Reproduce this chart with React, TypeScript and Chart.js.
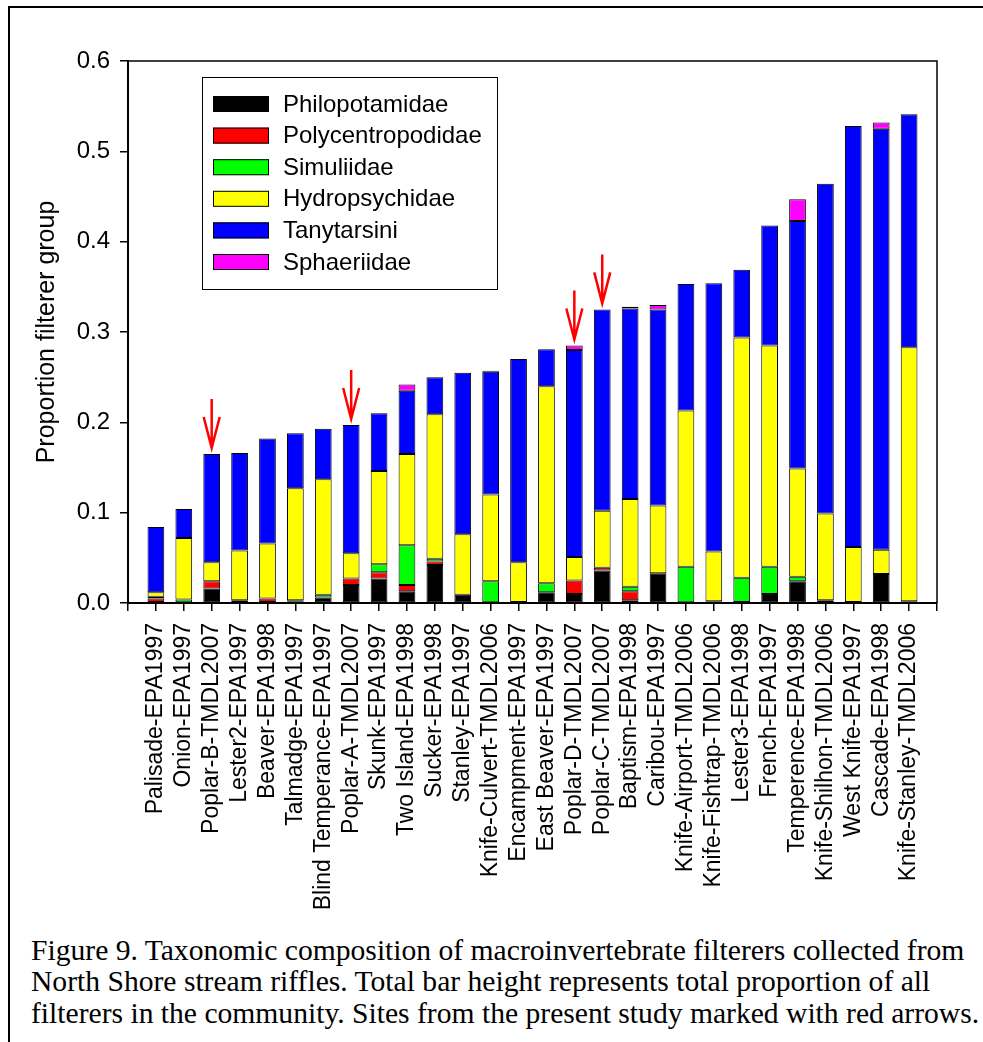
import { Chart, registerables, Plugin } from "chart.js";
import { useEffect, useRef } from "react";

Chart.register(...registerables);

const sites = [
  "Palisade-EPA1997",
  "Onion-EPA1997",
  "Poplar-B-TMDL2007",
  "Lester2-EPA1997",
  "Beaver-EPA1998",
  "Talmadge-EPA1997",
  "Blind Temperance-EPA1997",
  "Poplar-A-TMDL2007",
  "Skunk-EPA1997",
  "Two Island-EPA1998",
  "Sucker-EPA1998",
  "Stanley-EPA1997",
  "Knife-Culvert-TMDL2006",
  "Encampment-EPA1997",
  "East Beaver-EPA1997",
  "Poplar-D-TMDL2007",
  "Poplar-C-TMDL2007",
  "Baptism-EPA1998",
  "Caribou-EPA1997",
  "Knife-Airport-TMDL2006",
  "Knife-Fishtrap-TMDL2006",
  "Lester3-EPA1998",
  "French-EPA1997",
  "Temperence-EPA1998",
  "Knife-Shilhon-TMDL2006",
  "West Knife-EPA1997",
  "Cascade-EPA1998",
  "Knife-Stanley-TMDL2006",
];

const philopotamidae = [
  0.001, 0, 0.016, 0.001, 0.001, 0.002, 0.006, 0.02, 0.027, 0.013, 0.042, 0.009, 0, 0.001,
  0.012, 0.01, 0.036, 0.003, 0.033, 0, 0.002, 0.001, 0.01, 0.024, 0.003, 0.001, 0.032, 0.002,
];
const polycentropodidae = [
  0.004, 0, 0.008, 0, 0.004, 0, 0, 0.007, 0.007, 0.007, 0.004, 0, 0, 0,
  0, 0.015, 0.003, 0.01, 0, 0, 0, 0, 0, 0, 0, 0, 0, 0,
];
const simuliidae = [
  0.002, 0.004, 0, 0.002, 0, 0.001, 0.003, 0, 0.009, 0.044, 0.003, 0, 0.024, 0,
  0.01, 0, 0, 0.005, 0, 0.04, 0, 0.027, 0.03, 0.005, 0, 0, 0, 0,
];
const hydropsychidae = [
  0.005, 0.068, 0.021, 0.055, 0.061, 0.124, 0.128, 0.028, 0.103, 0.101, 0.16, 0.067, 0.096, 0.044,
  0.218, 0.026, 0.063, 0.097, 0.075, 0.173, 0.055, 0.266, 0.245, 0.12, 0.096, 0.061, 0.027, 0.281,
];
const tanytarsini = [
  0.072, 0.032, 0.12, 0.108, 0.116, 0.061, 0.056, 0.142, 0.064, 0.07, 0.041, 0.179, 0.136, 0.225,
  0.041, 0.229, 0.223, 0.211, 0.217, 0.14, 0.297, 0.075, 0.133, 0.274, 0.365, 0.466, 0.466, 0.258,
];
const sphaeriidae = [
  0, 0, 0, 0, 0, 0, 0, 0, 0, 0.007, 0, 0, 0.001, 0,
  0, 0.005, 0, 0.002, 0.005, 0, 0, 0, 0, 0.024, 0, 0, 0.007, 0,
];

const yTicks = [0, 0.1, 0.2, 0.3, 0.4, 0.5, 0.6];

// sites from the present study
const arrowSites = ["Poplar-B-TMDL2007", "Poplar-A-TMDL2007", "Poplar-D-TMDL2007", "Poplar-C-TMDL2007"];

const captionLines = [
  "Figure 9. Taxonomic composition of macroinvertebrate filterers collected from",
  "North Shore stream riffles. Total bar height represents total proportion of all",
  "filterers in the community. Sites from the present study marked with red arrows.",
];

const groups = [
  { label: "Philopotamidae", values: philopotamidae, color: "#000000" },
  { label: "Polycentropodidae", values: polycentropodidae, color: "#ff0000" },
  { label: "Simuliidae", values: simuliidae, color: "#00ff00" },
  { label: "Hydropsychidae", values: hydropsychidae, color: "#ffff00" },
  { label: "Tanytarsini", values: tanytarsini, color: "#0000ff" },
  { label: "Sphaeriidae", values: sphaeriidae, color: "#ff00ff" },
];

const FONT = "'Liberation Sans', Arial, sans-serif";

const framePlugin: Plugin<"bar"> = {
  id: "frame",
  afterDraw(chart) {
    const { ctx, chartArea: a } = chart;
    ctx.save();
    ctx.strokeStyle = "#000";
    ctx.lineWidth = 1.5;
    ctx.beginPath();
    ctx.moveTo(a.left, a.top);
    ctx.lineTo(a.right, a.top);
    ctx.lineTo(a.right, a.bottom);
    ctx.stroke();
    ctx.restore();
  },
};

const legendPlugin: Plugin<"bar"> = {
  id: "boxLegend",
  afterDraw(chart) {
    const { ctx, chartArea: a } = chart;
    const bx = a.left + 74;
    const by = a.top + 16;
    ctx.save();
    ctx.fillStyle = "#fff";
    ctx.fillRect(bx, by, 295, 212);
    ctx.strokeStyle = "#000";
    ctx.lineWidth = 1;
    ctx.strokeRect(bx + 0.5, by + 0.5, 295, 212);
    ctx.font = `24px ${FONT}`;
    ctx.textBaseline = "middle";
    chart.data.datasets.forEach((ds, i) => {
      const cy = by + 27 + i * 31.6;
      ctx.fillStyle = ds.backgroundColor as string;
      ctx.fillRect(bx + 11, cy - 8, 56, 16);
      ctx.strokeStyle = "#000";
      ctx.strokeRect(bx + 11.5, cy - 7.5, 55, 15);
      ctx.fillStyle = "#000";
      ctx.fillText(ds.label as string, bx + 81, cy + 1);
    });
    ctx.restore();
  },
};

const arrowPlugin: Plugin<"bar"> = {
  id: "arrows",
  afterDraw(chart) {
    const { ctx } = chart;
    const xs = chart.scales.x;
    const ys = chart.scales.y;
    ctx.save();
    ctx.strokeStyle = "#ff0000";
    ctx.lineWidth = 2.5;
    arrowSites.forEach((site) => {
      const i = sites.indexOf(site);
      const total = groups.reduce((s, g) => s + g.values[i], 0);
      const x = xs.getPixelForValue(i + 1);
      const tip = ys.getPixelForValue(total) - 6;
      ctx.beginPath();
      ctx.moveTo(x, tip - 49);
      ctx.lineTo(x, tip);
      ctx.moveTo(x - 8, tip - 31);
      ctx.lineTo(x, tip);
      ctx.lineTo(x + 8, tip - 31);
      ctx.stroke();
    });
    ctx.restore();
  },
};

const FilterChart = () => {
  const canvasRef = useRef<HTMLCanvasElement>(null);
  const chartRef = useRef<Chart | null>(null);

  useEffect(() => {
    if (!canvasRef.current) return;
    if (chartRef.current) chartRef.current.destroy();

    chartRef.current = new Chart(canvasRef.current, {
      type: "bar",
      data: {
        datasets: groups.map((g) => ({
          label: g.label,
          data: g.values.map((v, i) => ({ x: i + 1, y: v })),
          backgroundColor: g.color,
          borderColor: "#000",
          borderWidth: 1,
          borderSkipped: false,
          barPercentage: 0.6,
          categoryPercentage: 1,
        })),
      },
      options: {
        responsive: true,
        maintainAspectRatio: false,
        animation: false,
        layout: { padding: { left: 0, right: 46, top: 61, bottom: 0 } },
        plugins: {
          legend: { display: false },
          tooltip: { enabled: false },
        },
        scales: {
          x: {
            type: "linear",
            stacked: true,
            min: 0,
            max: sites.length + 1,
            offset: false,
            afterFit: (scale) => {
              scale.height = 327;
            },
            afterBuildTicks: (scale) => {
              scale.ticks = Array.from({ length: sites.length + 2 }, (_, i) => ({ value: i }));
            },
            ticks: {
              autoSkip: false,
              maxRotation: 90,
              minRotation: 90,
              padding: 12,
              color: "#000",
              font: { family: FONT, size: 23 },
              callback: (v) => sites[(v as number) - 1] ?? "",
            },
            grid: {
              offset: false,
              drawOnChartArea: false,
              tickLength: 8,
              color: "#000",
              lineWidth: 1.5,
            },
            border: { color: "#000", width: 2 },
          },
          y: {
            stacked: true,
            min: 0,
            max: 0.6,
            afterFit: (scale) => {
              scale.width = 128;
            },
            afterBuildTicks: (scale) => {
              scale.ticks = yTicks.map((v) => ({ value: v }));
            },
            ticks: {
              padding: 10,
              color: "#000",
              font: { family: FONT, size: 24 },
              callback: (v) => (v as number).toFixed(1),
            },
            title: {
              display: true,
              text: "Proportion filterer group",
              color: "#000",
              font: { family: FONT, size: 25 },
              padding: { top: 32, bottom: 0 },
            },
            grid: {
              drawOnChartArea: false,
              tickLength: 8,
              color: "#000",
              lineWidth: 1.5,
            },
            border: { color: "#000", width: 2 },
          },
        },
      },
      plugins: [framePlugin, legendPlugin, arrowPlugin],
    });

    return () => {
      if (chartRef.current) {
        chartRef.current.destroy();
        chartRef.current = null;
      }
    };
  }, []);

  return (
    <div style={{ position: "absolute", left: 0, top: 0, width: 983, height: 930 }}>
      <canvas ref={canvasRef} />
    </div>
  );
};

const App = () => {
  return (
    <div style={{ position: "absolute", left: 0, top: 0, width: 983, height: 1042, overflow: "hidden", background: "#fff" }}>
      <div
        style={{
          position: "absolute",
          left: 8,
          top: 6,
          width: 990,
          height: 1050,
          borderTop: "2px solid #000",
          borderLeft: "2px solid #000",
        }}
      />
      <FilterChart />
      <div
        style={{
          position: "absolute",
          left: 31,
          top: 935,
          fontFamily: "'Liberation Serif', 'Times New Roman', serif",
          fontSize: 29.6,
          lineHeight: "31.3px",
          color: "#000",
          whiteSpace: "nowrap",
        }}
      >
        {captionLines.map((line) => (
          <div key={line}>{line}</div>
        ))}
      </div>
    </div>
  );
};

export default App;
